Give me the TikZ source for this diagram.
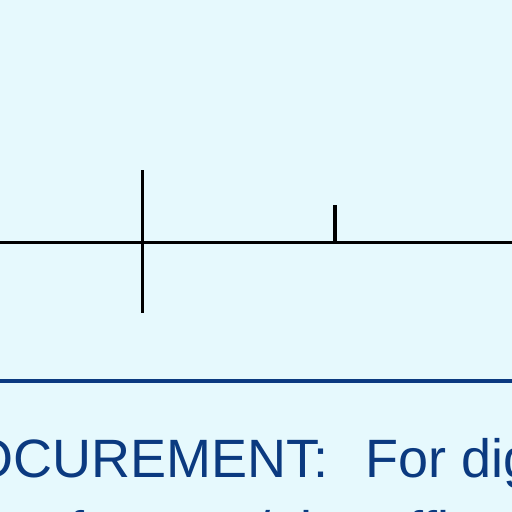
\documentclass[tikz,border=0pt]{standalone}
\definecolor{SlideBlue}{RGB}{11, 58, 128}
\definecolor{SlideBack}{RGB}{230, 249, 253}
\usepackage{fontspec}
\setmainfont{Liberation Sans}
\usepackage{tikz}
\usetikzlibrary{positioning}

\tikzset{
  wire/.style={line width=3pt, black},
  slidetext/.style={inner sep=0pt, anchor=base west, text=SlideBlue, font=\fontsize{54}{62}\selectfont}
}

\begin{document}
\begin{tikzpicture}[x=1pt, y=-1pt]
    \useasboundingbox (0,0) rectangle (512,512);
    \fill[SlideBack] (0,0) rectangle (512,512);

    % signal line with the two markers
    \coordinate (lineL) at (0,242);
    \coordinate (lineR) at (512,242);
    \coordinate (bigTop) at (142,170);
    \coordinate (bigBot) at (142,313);
    \coordinate (smallTop) at (335,205);
    \coordinate (smallBot) at (335,242);
    \draw[wire] (lineL) -- (lineR);
    \draw[wire] (bigTop) -- (bigBot);
    \draw[wire, line width=3.5pt] (smallTop) -- (smallBot);

    % divider
    \coordinate (ruleL) at (0,381);
    \coordinate (ruleR) at (512,381);
    \draw[SlideBlue, line width=4pt] (ruleL) -- (ruleR);

    \node[slidetext] (heading) at (-104,477) {PROCUREMENT:\hspace{0.69em}For digital};
    \node[slidetext] (second) at (-30,549) {ces for area/air traffic};
  \end{tikzpicture}
\end{document}
